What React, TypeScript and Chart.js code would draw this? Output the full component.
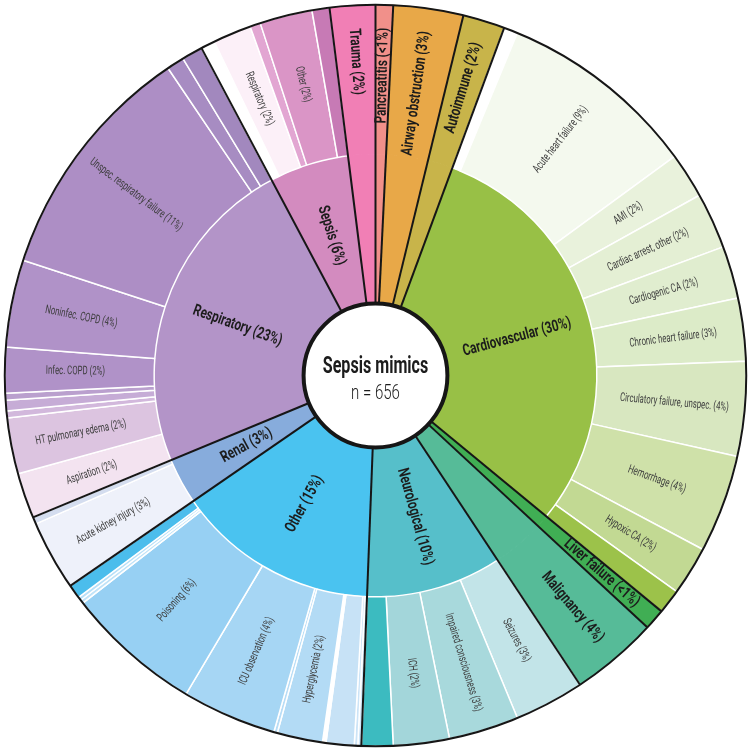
import React, { useEffect, useRef } from 'react';
import { Chart, registerables } from 'chart.js';

Chart.register(...registerables);

// ---- Categories (inner ring), clockwise from 12 o'clock ----
const categoryNames = [
  'Pancreatitis', 'Airway obstruction', 'Autoimmune', 'Cardiovascular', 'Liver failure',
  'Malignancy', 'Neurological', 'Other', 'Renal', 'Respiratory', 'Sepsis', 'Trauma',
];
const categoryCounts = [5, 20, 12, 199, 6, 25, 65, 97, 22, 154, 38, 13];
const categoryLabels = [
  'Pancreatitis (<1%)', 'Airway obstruction (3%)', 'Autoimmune (2%)', 'Cardiovascular (30%)',
  'Liver failure (<1%)', 'Malignancy (4%)', 'Neurological (10%)', 'Other (15%)', 'Renal (3%)',
  'Respiratory (23%)', 'Sepsis (6%)', 'Trauma (2%)',
];
const categoryColors = [
  '#f1908a', '#e8a848', '#c8b44a', '#98c046', '#40ae54',
  '#56bb98', '#56bfca', '#4ac3f0', '#87acdc', '#b394c8', '#d38bbf', '#f17fb5',
];

// ---- Subcategories (outer ring), clockwise from 12 o'clock ----
const subParents = [
  0, 1, 2,
  3, 3, 3, 3, 3, 3, 3, 3, 3, 3,
  4, 5,
  6, 6, 6, 6,
  7, 7, 7, 7, 7, 7, 7, 7, 7, 7, 7,
  8, 8,
  9, 9, 9, 9, 9, 9, 9, 9, 9, 9,
  10, 10, 10, 10, 10,
  11,
];
const subCounts = [
  5, 20, 12,
  4, 57, 13, 16, 15, 18, 27, 28, 14, 7,
  6, 25,
  20, 20, 16, 9,
  1, 1, 8, 1, 13, 1, 27, 39, 1, 1, 4,
  20, 2,
  13, 16, 2, 3, 2, 13, 25, 69, 5, 6,
  4, 11, 3, 15, 5,
  13,
];
const subLabels = [
  '', '', '',
  '', 'Acute heart failure (9%)', 'AMI (2%)', 'Cardiac arrest, other (2%)', 'Cardiogenic CA (2%)',
  'Chronic heart failure (3%)', 'Circulatory failure, unspec. (4%)', 'Hemorrhage (4%)', 'Hypoxic CA (2%)', '',
  '', '',
  'Seizures (3%)', 'Impaired consciousness (3%)', 'ICH (2%)', '',
  '', '', '', '', 'Hyperglycemia (2%)', '', 'ICU observation (4%)', 'Poisoning (6%)', '', '', '',
  'Acute kidney injury (3%)', '',
  'Aspiration (2%)', 'HT pulmonary edema (2%)', '', '', '', 'Infec. COPD (2%)', 'Noninfec. COPD (4%)',
  'Unspec. respiratory failure (11%)', '', '',
  '', 'Respiratory (2%)', '', 'Other (2%)', '',
  '',
];
const subColors = [
  '#f1908a', '#e8a848', '#c8b44a',
  '#ffffff', '#f4f9ee', '#e9f2dc', '#e4efd4', '#e0edcf', '#dcebc8', '#d8e7c0', '#cfe1a9', '#c2d993', '#9cc24a',
  '#40ae54', '#56bb98',
  '#c2e4e8', '#a8d9dc', '#a3d6da', '#3cbbc0',
  '#cfe6f8', '#cce4f7', '#c7e2f6', '#ffffff', '#b3dbf5', '#b8ddf6', '#a6d6f4', '#97d0f3', '#c0e3f8', '#b8e0f8', '#4bbdec',
  '#eef1fa', '#d4ddef',
  '#f3e3f0', '#dcc4e0', '#d2b8dc', '#c6acd6', '#baa0ce', '#b092c8', '#b092c8', '#ad8ec5', '#a78cc2', '#a288be',
  '#ffffff', '#fcf0f8', '#e2a6d2', '#da95c6', '#c77ab5',
  '#f17fb5',
];

const centerTitle = 'Sepsis mimics';
const centerSubtitle = 'n = 656';

const FONT = 'Roboto, "Liberation Sans", sans-serif';

function drawRadialText(
  ctx: CanvasRenderingContext2D, text: string, cx: number, cy: number, r: number,
  angle: number, font: string, color: string, sx: number,
) {
  let deg = ((angle + Math.PI / 2) * 180) / Math.PI;
  deg = ((deg % 360) + 360) % 360;
  const rot = deg < 180 ? deg - 90 : deg - 270;
  const x = cx + r * Math.cos(angle);
  const y = cy + r * Math.sin(angle);
  ctx.save();
  ctx.translate(x, y);
  ctx.rotate((rot * Math.PI) / 180);
  ctx.scale(sx, 1);
  ctx.font = font;
  ctx.fillStyle = color;
  ctx.textAlign = 'center';
  ctx.textBaseline = 'middle';
  ctx.fillText(text, 0, 0);
  ctx.restore();
}

const sunburstPlugin = {
  id: 'sunburst',
  afterDatasetsDraw(chart: any) {
    const ctx: CanvasRenderingContext2D = chart.ctx;
    const outerMeta = chart.getDatasetMeta(0);
    const innerMeta = chart.getDatasetMeta(1);
    const first: any = outerMeta.data[0];
    const cx = first.x;
    const cy = first.y;
    const R = first.outerRadius;
    const rSplit = first.innerRadius;
    const r0 = (innerMeta.data[0] as any).innerRadius;
    const subsPer = categoryNames.map((_, i) => subParents.filter((p) => p === i).length);

    ctx.save();
    // black category boundaries
    ctx.strokeStyle = '#161616';
    ctx.lineWidth = 2;
    innerMeta.data.forEach((arc: any) => {
      const a = arc.startAngle;
      ctx.beginPath();
      ctx.moveTo(cx + r0 * Math.cos(a), cy + r0 * Math.sin(a));
      ctx.lineTo(cx + R * Math.cos(a), cy + R * Math.sin(a));
      ctx.stroke();
    });
    // outer circle
    ctx.beginPath();
    ctx.arc(cx, cy, R, 0, Math.PI * 2);
    ctx.stroke();
    // centre disc
    ctx.beginPath();
    ctx.arc(cx, cy, r0, 0, Math.PI * 2);
    ctx.fillStyle = '#ffffff';
    ctx.fill();
    ctx.lineWidth = 4;
    ctx.stroke();
    ctx.restore();

    const catFont = `bold 16px ${FONT}`;
    const catSx = 0.73;
    const subFont = `12px ${FONT}`;
    const subSx = 0.65;

    // category labels
    innerMeta.data.forEach((arc: any, i: number) => {
      const mid = (arc.startAngle + arc.endAngle) / 2;
      if (subsPer[i] === 1) {
        ctx.save();
        ctx.font = catFont;
        const w = ctx.measureText(categoryLabels[i]).width * catSx;
        ctx.restore();
        const r = R - 23 - w / 2;
        drawRadialText(ctx, categoryLabels[i], cx, cy, r, mid, catFont, '#1c1c1c', catSx);
      } else {
        const r = (r0 + rSplit) / 2;
        drawRadialText(ctx, categoryLabels[i], cx, cy, r, mid, catFont, '#1c1c1c', catSx);
      }
    });

    // subcategory labels
    outerMeta.data.forEach((arc: any, i: number) => {
      const t = subLabels[i];
      if (!t) return;
      const mid = (arc.startAngle + arc.endAngle) / 2;
      const r = (rSplit + R) / 2 + 4;
      drawRadialText(ctx, t, cx, cy, r, mid, subFont, '#3d3d3d', subSx);
    });

    // centre text
    ctx.save();
    ctx.fillStyle = '#1c1c1c';
    ctx.textAlign = 'center';
    ctx.textBaseline = 'middle';
    ctx.translate(cx, cy - 8);
    ctx.scale(0.7, 1);
    ctx.font = `bold 23px ${FONT}`;
    ctx.fillText(centerTitle, 0, 0);
    ctx.restore();
    ctx.save();
    ctx.fillStyle = '#1c1c1c';
    ctx.textAlign = 'center';
    ctx.textBaseline = 'middle';
    ctx.translate(cx, cy + 18);
    ctx.scale(0.75, 1);
    ctx.font = `300 20px ${FONT}`;
    ctx.fillText(centerSubtitle, 0, 0);
    ctx.restore();
  },
};

export default function App() {
  const ref = useRef<HTMLCanvasElement>(null);
  useEffect(() => {
    if (!ref.current) return;
    const subsPer = categoryNames.map((_, i) => subParents.filter((p) => p === i).length);
    const full = subParents.map((p) => subsPer[p] === 1);
    const chart = new Chart(ref.current, {
      type: 'doughnut',
      data: {
        labels: subLabels,
        datasets: [
          {
            data: subCounts,
            backgroundColor: subColors,
            borderColor: subColors.map((c, i) => (full[i] ? c : '#ffffff')),
            borderWidth: full.map((f) => (f ? 1 : 1.5)),
            weight: 1,
          } as any,
          {
            data: categoryCounts,
            backgroundColor: categoryColors,
            borderColor: categoryColors,
            borderWidth: 1,
            weight: 1,
          } as any,
        ],
      },
      options: {
        responsive: false,
        animation: false,
        cutout: '19.4%',
        layout: { padding: 4 },
        events: [],
        plugins: { legend: { display: false }, tooltip: { enabled: false } },
      } as any,
      plugins: [sunburstPlugin],
    });
    return () => chart.destroy();
  }, []);
  return (
    <div style={{ position: 'absolute', left: 0, top: 0, width: 751, height: 751, background: '#ffffff' }}>
      <canvas ref={ref} width={751} height={751} style={{ display: 'block' }} />
    </div>
  );
}
